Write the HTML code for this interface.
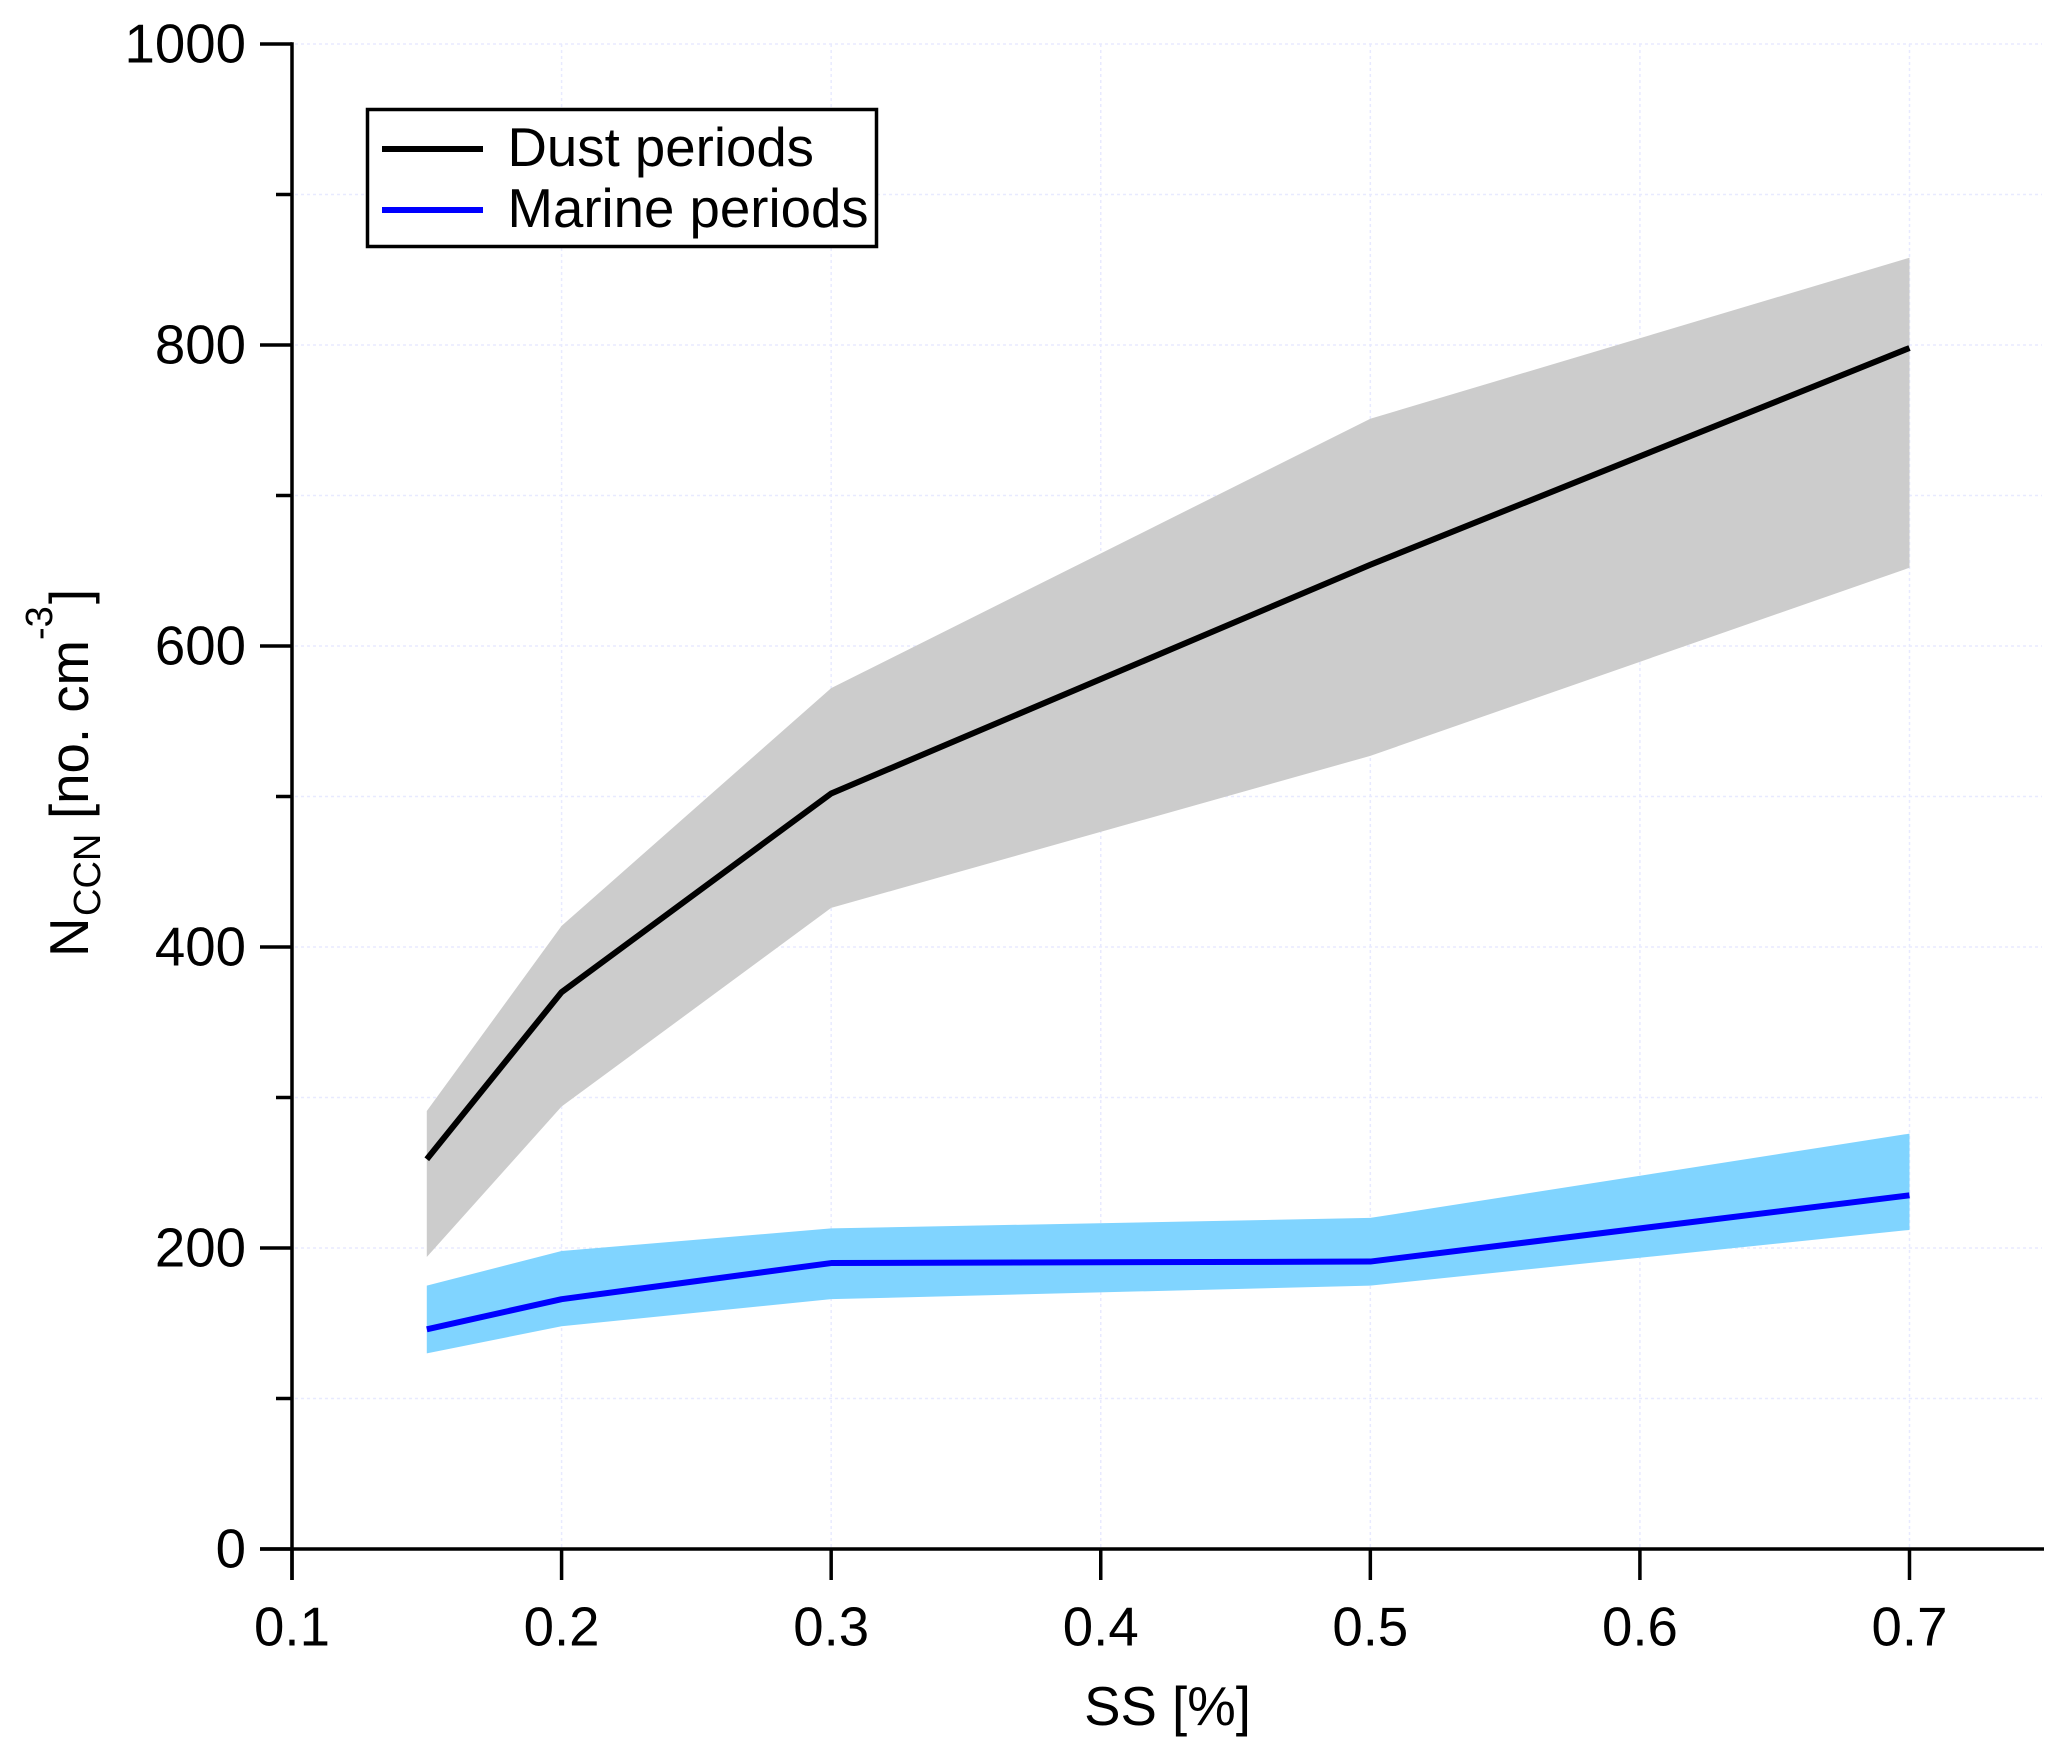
<!DOCTYPE html>
<html lang="en">
<head>
<meta charset="utf-8">
<title>NCCN vs SS</title>
<style>
html,body{margin:0;padding:0;background:#fff;}
svg{display:block;}
text{font-family:"Liberation Sans",Arial,sans-serif;fill:#000;}
</style>
</head>
<body>
<svg id="chart" xmlns="http://www.w3.org/2000/svg" width="2068" height="1759" viewBox="0 0 2068 1759">
  <rect x="0" y="0" width="2068" height="1759" fill="#fff"/>
  <g id="grid"></g>
  <g id="bands"></g>
  <g id="lines"></g>
  <g id="axes"></g>

  <text x="1167.5" y="1725" font-size="54.6" text-anchor="middle">SS [%]</text>

  <g transform="translate(88,957) rotate(-90)">
    <text x="0" y="0" font-size="54.6">N<tspan x="41" y="12" font-size="38">CCN</tspan><tspan x="138" y="0" font-size="54.6">[no. cm</tspan><tspan x="317" y="-36" font-size="38">-3</tspan><tspan x="353" y="0" font-size="54.6">]</tspan></text>
  </g>

  <g>
    <rect x="367.5" y="109.5" width="509" height="137" fill="#fff" stroke="#000" stroke-width="3.5"/>
    <line x1="382" y1="149" x2="483" y2="149" stroke="#000" stroke-width="6"/>
    <text x="507.5" y="166" font-size="54.6">Dust periods</text>
    <line x1="382" y1="210" x2="483" y2="210" stroke="#0000ff" stroke-width="6"/>
    <text x="507.5" y="227" font-size="54.6">Marine periods</text>
  </g>
</svg>
<script>
const ssValues = [0.15, 0.2, 0.3, 0.5, 0.7];
const dustMean = [259, 370, 502, 654, 798];
const dustUpper = [291, 414, 572, 751, 858];
const dustLower = [194, 294, 426, 527, 652];
const marineMean = [146, 166, 190, 191, 235];
const marineUpper = [175, 198, 213, 220, 276];
const marineLower = [130, 148, 166, 175, 212];
const xTickLabels = ["0.1", "0.2", "0.3", "0.4", "0.5", "0.6", "0.7"];
const yMajorLabels = ["0", "200", "400", "600", "800", "1000"];
const yMinorValues = [100, 300, 500, 700, 900];

const NS = "http://www.w3.org/2000/svg";
const xMin = 0.1, xMax = 0.7, yMin = 0, yMax = 1000;
const pxLeft = 292, pxRight = 1909.5, pxBottom = 1549, pxTop = 44, axisEnd = 2044;

function xScale(v) { return pxLeft + (v - xMin) / (xMax - xMin) * (pxRight - pxLeft); }
function yScale(v) { return pxBottom - (v - yMin) / (yMax - yMin) * (pxBottom - pxTop); }

function make(tag, attrs, parent) {
  const el = document.createElementNS(NS, tag);
  Object.keys(attrs).forEach(function (k) { el.setAttribute(k, attrs[k]); });
  parent.appendChild(el);
  return el;
}

const gridG = document.getElementById("grid");
const bandsG = document.getElementById("bands");
const linesG = document.getElementById("lines");
const axesG = document.getElementById("axes");

/* gridlines */
xTickLabels.forEach(function (label) {
  const x = xScale(parseFloat(label));
  if (label === xTickLabels[0]) return;
  const el = make("line", { x1: x, y1: pxTop, x2: x, y2: pxBottom, stroke: "#e8eaff", "stroke-width": 1.5, "stroke-dasharray": "3 3" }, gridG);
  
  
});
yMajorLabels.concat(yMinorValues.map(String)).forEach(function (label) {
  const v = parseFloat(label);
  if (v === 0) return;
  const y = yScale(v);
  const el = make("line", { x1: pxLeft + 3, y1: y, x2: axisEnd - 2, y2: y, stroke: "#e8eaff", "stroke-width": 1.5, "stroke-dasharray": "3 3" }, gridG);
  
  
});

/* bands */
function bandPoints(upper, lower) {
  const top = ssValues.map(function (s, i) { return xScale(s) + "," + yScale(upper[i]); });
  const bottom = ssValues.map(function (s, i) { return xScale(s) + "," + yScale(lower[i]); }).reverse();
  return top.concat(bottom).join(" ");
}
const dustBand = make("polygon", { points: bandPoints(dustUpper, dustLower), fill: "#cccccc" }, bandsG);


const marineBand = make("polygon", { points: bandPoints(marineUpper, marineLower), fill: "#80d4ff" }, bandsG);



/* mean lines */
function linePoints(values) {
  return ssValues.map(function (s, i) { return xScale(s) + "," + yScale(values[i]); }).join(" ");
}
const dustLine = make("polyline", { points: linePoints(dustMean), fill: "none", stroke: "#000", "stroke-width": 6, "stroke-linejoin": "round" }, linesG);


const marineLine = make("polyline", { points: linePoints(marineMean), fill: "none", stroke: "#0000ff", "stroke-width": 6, "stroke-linejoin": "round" }, linesG);



/* axes */
const yAxisLine = make("line", { x1: pxLeft, y1: pxTop - 1.75, x2: pxLeft, y2: pxBottom + 31, stroke: "#000", "stroke-width": 3.5 }, axesG);


const xAxisLine = make("line", { x1: pxLeft - 32, y1: pxBottom, x2: axisEnd, y2: pxBottom, stroke: "#000", "stroke-width": 3.5 }, axesG);



xTickLabels.forEach(function (label) {
  const x = xScale(parseFloat(label));
  const tick = make("line", { x1: x, y1: pxBottom, x2: x, y2: pxBottom + 31, stroke: "#000", "stroke-width": 3.5 }, axesG);
  
  
  const text = make("text", { x: x, y: 1645.5, "font-size": 54.6, "text-anchor": "middle" }, axesG);
  text.textContent = label;
  
  
});
yMajorLabels.forEach(function (label) {
  const y = yScale(parseFloat(label));
  const tick = make("line", { x1: pxLeft - 32, y1: y, x2: pxLeft, y2: y, stroke: "#000", "stroke-width": 3.5 }, axesG);
  
  
  const text = make("text", { x: 246, y: y + 18.5, "font-size": 54.6, "text-anchor": "end" }, axesG);
  text.textContent = label;
  
  
});
yMinorValues.forEach(function (v) {
  const y = yScale(v);
  const tick = make("line", { x1: pxLeft - 16, y1: y, x2: pxLeft, y2: y, stroke: "#000", "stroke-width": 3.5 }, axesG);
  
  
});
</script>
</body>
</html>
